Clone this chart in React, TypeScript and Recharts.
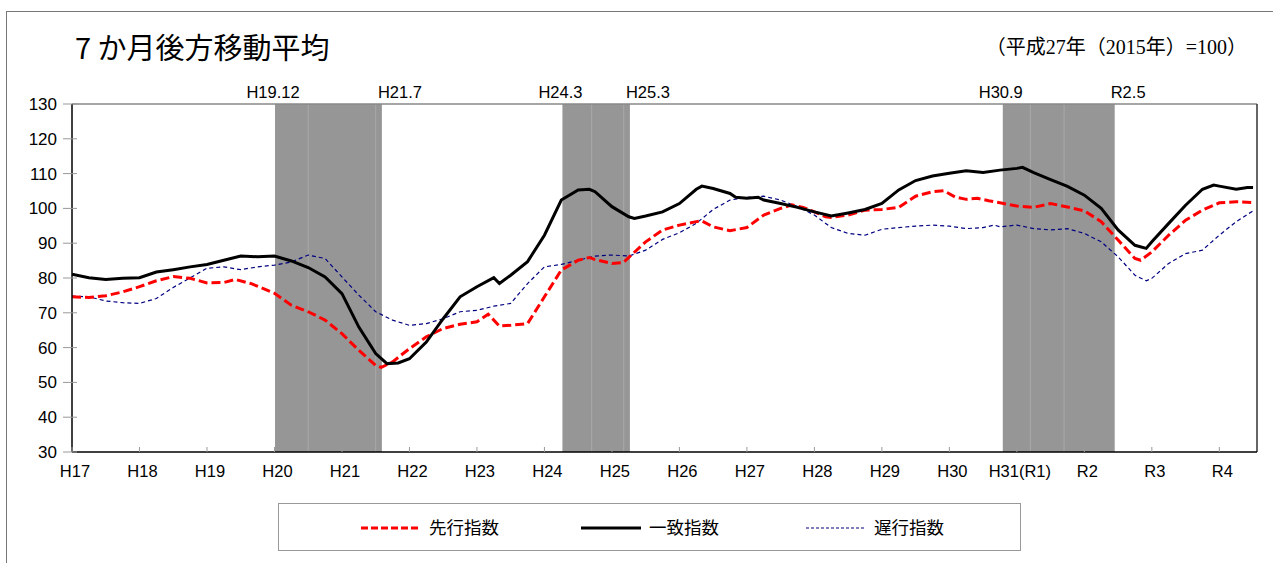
import React from "react";
import {
  LineChart,
  Line,
  XAxis,
  YAxis,
  ReferenceArea,
  ReferenceLine,
} from "recharts";

// month index: 0 = H17.1 (Jan 2005)
const yearLabels = [
  "H17", "H18", "H19", "H20", "H21", "H22", "H23", "H24", "H25",
  "H26", "H27", "H28", "H29", "H30", "H31(R1)", "R2", "R3", "R4",
];
const yearTicks = yearLabels.map((_, i) => i * 12);
const yTicks = [30, 40, 50, 60, 70, 80, 90, 100, 110, 120, 130];

const leadingMonths = [
  0, 3, 6, 9, 12, 15, 18, 21, 24, 27, 29, 32, 36, 39, 42, 45, 48, 51, 54, 55,
  57, 60, 63, 66, 69, 72, 74, 76, 78, 81, 84, 87, 90, 92, 93, 96, 98, 99, 102,
  105, 108, 111, 112, 114, 117, 120, 123, 126, 128, 130, 132, 134, 135, 138,
  141, 144, 147, 150, 153, 155, 157, 159, 161, 163, 165, 168, 171, 174, 177,
  180, 183, 186, 189, 190, 192, 195, 198, 201, 204, 207, 210,
];
const leadingValues = [
  74.6, 74.4, 74.9, 76.0, 77.5, 79.2, 80.4, 79.9, 78.6, 78.7, 79.6, 78.3, 75.6,
  72.2, 70.3, 67.9, 64.0, 59.2, 54.9, 54.3, 55.9, 59.7, 63.1, 65.5, 66.7, 67.4,
  69.6, 66.2, 66.4, 66.9, 74.6, 82.3, 85.1, 85.9, 85.3, 84.2, 84.4, 85.9, 90.4,
  93.8, 95.2, 96.2, 96.4, 94.7, 93.6, 94.5, 98.1, 100.0, 101.0, 100.3, 99.0,
  97.6, 97.4, 98.1, 99.5, 99.7, 100.3, 103.5, 104.8, 105.1, 103.3, 102.6,
  102.9, 102.2, 101.6, 100.7, 100.3, 101.4, 100.4, 99.3, 96.2, 90.9, 85.6,
  85.1, 87.5, 92.3, 96.6, 99.5, 101.6, 101.9, 101.7,
];

const coincidentMonths = [
  0, 3, 6, 9, 12, 15, 18, 21, 24, 27, 30, 33, 36, 39, 42, 45, 48, 51, 54, 56,
  58, 60, 63, 66, 69, 72, 75, 76, 78, 81, 84, 87, 90, 92, 93, 96, 99, 100, 102,
  105, 108, 111, 112, 114, 117, 118, 120, 122, 123, 126, 129, 132, 135, 138,
  141, 144, 147, 150, 153, 156, 159, 162, 165, 168, 169, 171, 174, 177, 180,
  183, 186, 189, 191, 192, 195, 198, 201, 203, 204, 207, 209, 210,
];
const coincidentValues = [
  81.1, 80.1, 79.6, 79.9, 80.1, 81.7, 82.4, 83.2, 83.9, 85.1, 86.3, 86.1, 86.3,
  84.9, 83.0, 80.3, 75.5, 65.9, 58.3, 55.4, 55.6, 56.8, 61.6, 68.3, 74.6, 77.5,
  80.1, 78.4, 80.8, 84.7, 92.3, 102.4, 105.3, 105.5, 104.8, 100.5, 97.6, 97.1,
  97.8, 99.0, 101.4, 105.5, 106.4, 105.7, 104.3, 103.2, 102.9, 103.2, 102.4,
  101.4, 100.3, 99.0, 97.8, 98.7, 99.7, 101.4, 105.3, 108.0, 109.3, 110.1,
  110.8, 110.3, 111.0, 111.5, 111.8, 110.3, 108.3, 106.3, 103.8, 100.0, 93.8,
  89.4, 88.5, 90.4, 95.7, 100.9, 105.5, 106.7, 106.4, 105.5, 106.0, 106.0,
];

const laggingMonths = [
  0, 3, 6, 9, 12, 15, 18, 21, 24, 27, 30, 33, 36, 39, 42, 45, 48, 51, 54, 57,
  60, 63, 66, 69, 72, 75, 78, 81, 84, 87, 90, 93, 96, 99, 102, 105, 108, 111,
  114, 117, 120, 123, 126, 129, 132, 135, 138, 141, 144, 147, 150, 153, 156,
  159, 162, 164, 165, 168, 171, 174, 177, 180, 183, 186, 189, 191, 192, 195,
  198, 201, 204, 207, 210,
];
const laggingValues = [
  74.8, 74.6, 73.4, 72.9, 72.7, 74.1, 77.3, 80.0, 82.8, 83.2, 82.4, 83.2, 83.7,
  84.6, 86.6, 85.6, 80.3, 75.1, 70.3, 67.9, 66.4, 66.9, 68.3, 70.3, 70.7, 71.9,
  72.7, 78.4, 83.2, 83.9, 85.1, 86.3, 86.6, 86.3, 88.0, 91.1, 93.0, 95.7, 99.7,
  102.4, 103.2, 103.5, 102.4, 100.5, 98.1, 94.5, 92.8, 92.3, 94.0, 94.5, 94.9,
  95.2, 94.9, 94.2, 94.5, 95.2, 94.7, 95.2, 94.2, 93.8, 94.2, 92.8, 90.4, 86.1,
  80.8, 79.2, 79.9, 84.2, 87.0, 88.0, 92.3, 96.2, 99.3,
];

// recession periods (peak label, trough label, start/end in month index)
const recessionLabels = [
  ["H19.12", "H21.7"],
  ["H24.3", "H25.3"],
  ["H30.9", "R2.5"],
];
const recessionStarts = [36.1, 87.2, 165.5];
const recessionEnds = [55.1, 99.2, 185.4];
const shadeSeams = [42, 54, 92.4, 98.1, 170.4, 176.4];

const toRows = (months: number[], values: number[]) =>
  months.map((m, i) => ({ m, v: values[i] }));

const TICK_FONT = "'Liberation Sans', Arial, sans-serif";
const JP_FONT = "'Noto Sans CJK JP', sans-serif";

const XTick = (props: any) => {
  const { x, y, payload } = props;
  return (
    <g>
      <line x1={x} y1={y} x2={x} y2={y - 5} stroke="#999" />
      <text x={x + 3} y={y + 25} textAnchor="middle" fontSize={16.5} fontFamily={TICK_FONT} fill="#000">
        {yearLabels[Math.round(payload.value / 12)]}
      </text>
    </g>
  );
};

const YTick = (props: any) => {
  const { x, y, payload } = props;
  return (
    <g>
      <line x1={x - 9} y1={y} x2={x + 5} y2={y} stroke="#999" />
      <text x={x - 15} y={y + 6} textAnchor="end" fontSize={17} fontFamily={TICK_FONT} fill="#000">
        {payload.value}
      </text>
    </g>
  );
};

const periodLabel = (start: string, end: string) => (props: any) => {
  const { x, y, width } = props.viewBox;
  return (
    <g>
      <text x={x - 2} y={y - 6} textAnchor="middle" fontSize={16.5} fontFamily={TICK_FONT} fill="#000">
        {start}
      </text>
      <text x={x + width - 4} y={y - 6} textAnchor="start" fontSize={16.5} fontFamily={TICK_FONT} fill="#000">
        {end}
      </text>
    </g>
  );
};

export default function App() {
  return (
    <div style={{ position: "absolute", left: 0, top: 0, width: 1273, height: 563, background: "#fff" }}>
      {/* outer frame */}
      <div style={{ position: "absolute", left: 6, top: 11, right: 0, bottom: 0, borderTop: "1px solid #777", borderLeft: "1px solid #777" }} />
      <div style={{ position: "absolute", left: 75, top: 25, fontSize: 29, fontFamily: JP_FONT, color: "#000", whiteSpace: "nowrap" }}>
        7 か月後方移動平均
      </div>
      <div style={{ position: "absolute", right: 26, top: 31, fontSize: 20, fontFamily: "'Liberation Serif', 'Noto Sans CJK JP', serif", color: "#000", whiteSpace: "nowrap" }}>
        （平成27年（2015年）=100）
      </div>

      <div style={{ position: "absolute", left: 0, top: 0 }}>
        <LineChart width={1273} height={563} margin={{ top: 104, right: 16, left: 32, bottom: 81 }}>
          <XAxis
            type="number"
            dataKey="m"
            domain={[0, 210.7]}
            ticks={yearTicks}
            allowDataOverflow
            tick={<XTick />}
            tickLine={false}
            tickSize={0}
            tickMargin={0}
            height={30}
            axisLine={{ stroke: "#000", strokeWidth: 1.5 }}
          />
          <YAxis
            type="number"
            domain={[30, 130]}
            ticks={yTicks}
            tick={<YTick />}
            tickLine={false}
            tickSize={0}
            tickMargin={0}
            width={40}
            axisLine={{ stroke: "#000", strokeWidth: 1.5 }}
          />
          {recessionStarts.map((s, i) => (
            <ReferenceArea
              key={"area" + i}
              x1={s}
              x2={recessionEnds[i]}
              y1={30}
              y2={130}
              fill="#969696"
              fillOpacity={1}
              stroke="none"
              label={periodLabel(recessionLabels[i][0], recessionLabels[i][1])}
            />
          ))}
          {shadeSeams.map((s) => (
            <ReferenceLine key={"seam" + s} x={s} stroke="#a9a9a9" strokeWidth={1} />
          ))}
          <ReferenceLine y={130} stroke="#888" strokeWidth={1.5} />
          <ReferenceLine x={210.7} stroke="#333" strokeWidth={1.5} />
          <Line
            data={toRows(laggingMonths, laggingValues)}
            dataKey="v"
            name="遅行指数"
            stroke="#000080"
            strokeWidth={1.2}
            strokeDasharray="4 3"
            dot={false}
            isAnimationActive={false}
          />
          <Line
            data={toRows(leadingMonths, leadingValues)}
            dataKey="v"
            name="先行指数"
            stroke="#ff0000"
            strokeWidth={3}
            strokeDasharray="9 4"
            dot={false}
            isAnimationActive={false}
          />
          <Line
            data={toRows(coincidentMonths, coincidentValues)}
            dataKey="v"
            name="一致指数"
            stroke="#000"
            strokeWidth={3}
            dot={false}
            isAnimationActive={false}
          />
        </LineChart>
      </div>

      {/* legend */}
      <div style={{ position: "absolute", left: 278, top: 503, width: 743, height: 48, border: "1px solid #999", boxSizing: "border-box" }}>
        <svg width={743} height={48} style={{ position: "absolute", left: 0, top: 0 }}>
          <line x1={82} y1={24} x2={142} y2={24} stroke="#ff0000" strokeWidth={3} strokeDasharray="7 3" />
          <text x={150} y={30} fontSize={17.5} fontFamily={JP_FONT} fill="#000">先行指数</text>
          <line x1={302} y1={24} x2={362} y2={24} stroke="#000" strokeWidth={3} />
          <text x={370} y={30} fontSize={17.5} fontFamily={JP_FONT} fill="#000">一致指数</text>
          <line x1={527} y1={24} x2={587} y2={24} stroke="#000080" strokeWidth={1.2} strokeDasharray="3 2" />
          <text x={595} y={30} fontSize={17.5} fontFamily={JP_FONT} fill="#000">遅行指数</text>
        </svg>
      </div>
    </div>
  );
}
